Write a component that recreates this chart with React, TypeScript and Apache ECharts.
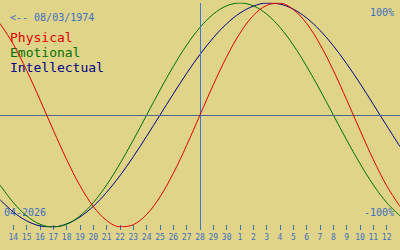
import React, { useEffect, useRef } from "react";
import * as echarts from "echarts";

// Days shown: Apr 13 .. May 13 (index 0..30), centre = Apr 28
const dayLabels = ["13","14","15","16","17","18","19","20","21","22","23","24","25","26","27","28","29","30","1","2","3","4","5","6","7","8","9","10","11","12","13"];
const physical = [0.817,0.631,0.398,0.136,-0.136,-0.398,-0.631,-0.817,-0.942,-0.998,-0.979,-0.888,-0.731,-0.52,-0.27,0,0.27,0.52,0.731,0.888,0.979,0.998,0.942,0.817,0.631,0.398,0.136,-0.136,-0.398,-0.631,-0.817];
const emotional = [-0.624,-0.782,-0.901,-0.975,-1,-0.975,-0.901,-0.782,-0.624,-0.434,-0.223,0,0.223,0.434,0.624,0.782,0.901,0.975,1,0.975,0.901,0.782,0.624,0.434,0.223,0,-0.223,-0.434,-0.624,-0.782,-0.901];
const intellectual = [-0.756,-0.866,-0.945,-0.99,-0.999,-0.972,-0.91,-0.815,-0.69,-0.541,-0.372,-0.189,0,0.189,0.372,0.541,0.69,0.815,0.91,0.972,0.999,0.99,0.945,0.866,0.756,0.618,0.458,0.282,0.095,-0.095,-0.282];
const todayIndex = 15;
const birthText = "<-- 08/03/1974";
const monthText = "04-2026";

const BLUE = "#3d6fc4";
const FONT = "DejaVu Sans Mono";

export default function App() {
  const ref = useRef<HTMLDivElement>(null);
  useEffect(() => {
    if (!ref.current) return;
    const chart = echarts.init(ref.current, null, { renderer: "svg" });
    const toPairs = (arr: number[]) => arr.map((v, i) => [i, v]);
    const mkSeries = (name: string, arr: number[], color: string, z: number) => ({
      name,
      type: "line",
      data: toPairs(arr),
      smooth: 0.35,
      showSymbol: false,
      lineStyle: { color, width: 1 },
      itemStyle: { color },
      z,
    });
    chart.setOption({
      animation: false,
      backgroundColor: "#e0d488",
      grid: { left: 0, right: 0, top: 3, bottom: 23 },
      xAxis: {
        type: "value",
        min: 0,
        max: 30,
        interval: 1,
        offset: -2,
        axisLine: { show: false, onZero: false },
        splitLine: { show: false },
        axisTick: { show: true, length: 5, lineStyle: { color: BLUE, width: 1 } },
        axisLabel: {
          showMinLabel: false,
          showMaxLabel: false,
          margin: 8,
          color: BLUE,
          fontFamily: FONT,
          fontSize: 8,
          formatter: (v: number) => (v <= 0 || v >= 30 ? "" : dayLabels[Math.round(v)]),
        },
      },
      yAxis: {
        type: "value",
        min: -1,
        max: 1,
        show: false,
      },
      series: [
        {
          ...mkSeries("Intellectual", intellectual, "#000088", 3),
          markLine: {
            silent: true,
            symbol: "none",
            label: { show: false },
            data: [
              { yAxis: 0, lineStyle: { color: "#4a6890", width: 1, type: "solid" } },
              { xAxis: todayIndex, lineStyle: { color: "#3a78d8", width: 1, type: "solid" } },
            ],
          },
        },
        mkSeries("Emotional", emotional, "#007000", 4),
        mkSeries("Physical", physical, "#e00000", 5),
      ],
      graphic: [
        { type: "text", left: 10, top: 12, style: { text: birthText, fill: BLUE, font: `10px "${FONT}"` } },
        { type: "text", left: 10, top: 31, style: { text: "Physical", fill: "#e00000", font: `13px "${FONT}"` } },
        { type: "text", left: 10, top: 46, style: { text: "Emotional", fill: "#007000", font: `13px "${FONT}"` } },
        { type: "text", left: 10, top: 61, style: { text: "Intellectual", fill: "#000088", font: `13px "${FONT}"` } },
        { type: "text", right: 6, top: 7, style: { text: "100%", fill: BLUE, font: `10px "${FONT}"` } },
        { type: "text", right: 6, top: 207, style: { text: "-100%", fill: BLUE, font: `10px "${FONT}"` } },
        { type: "text", left: 4, top: 207, style: { text: monthText, fill: BLUE, font: `10px "${FONT}"` } },
      ],
    });
    return () => chart.dispose();
  }, []);
  return (
    <div
      ref={ref}
      style={{ position: "fixed", left: 0, top: 0, width: 400, height: 250 }}
    />
  );
}
